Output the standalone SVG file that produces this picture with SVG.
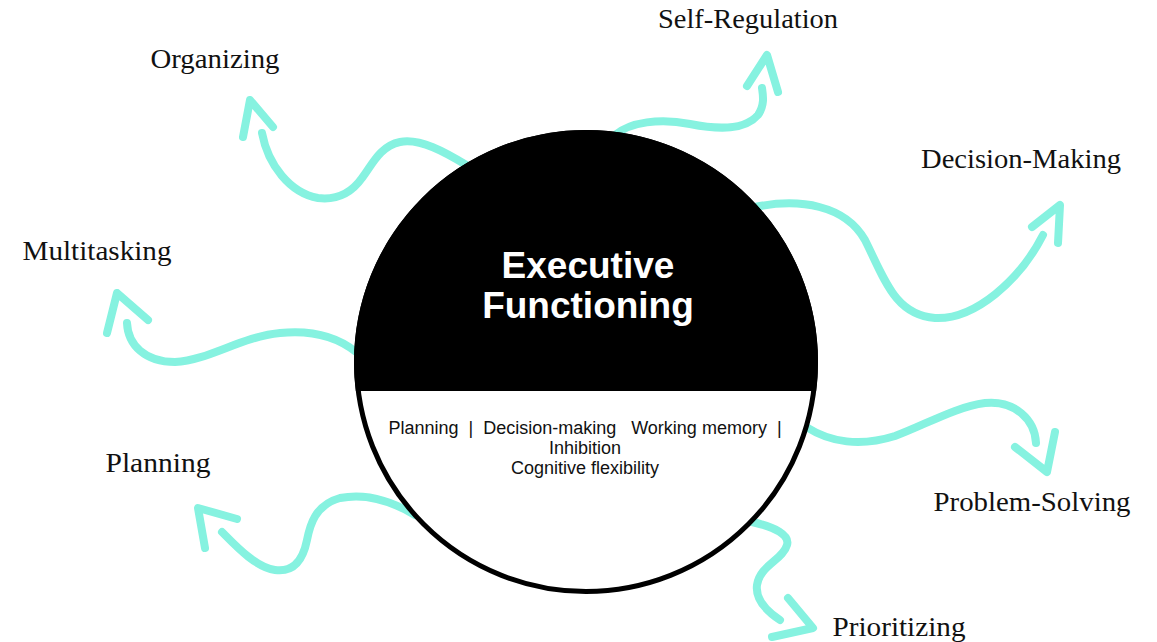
<svg xmlns="http://www.w3.org/2000/svg" width="1157" height="642" viewBox="0 0 1157 642">
<style>
.arrow{fill:none;stroke:#86f2e0;stroke-width:8;stroke-linecap:round;stroke-linejoin:round}
.lbl{font-family:"Liberation Serif","Times New Roman",serif;font-size:27px;fill:#111;text-anchor:middle}
.title{font-family:"Liberation Sans",Arial,sans-serif;font-weight:bold;font-size:37px;fill:#fff;text-anchor:middle}
.sub{font-family:"Liberation Sans",Arial,sans-serif;font-size:18px;fill:#111;text-anchor:middle;white-space:pre}
</style>
<defs>
<clipPath id="topcut"><rect x="0" y="0" width="1157" height="391"/></clipPath>
</defs>
<rect width="1157" height="642" fill="#fff"/>
<g id="connectors">
<g id="c-organizing"><path class="arrow" d="M 468,166 C 445,152 420,138 400,142 C 380,146 372,165 362,178 C 350,195 335,200 318,198 C 290,193 268,165 262,133"/><polyline class="arrow" points="243,137 250,100 273,127"/></g>
<g id="c-selfreg"><path class="arrow" d="M 615,135 C 630,122 660,118 690,124 C 720,130 745,130 758,115 C 765,105 763,95 762,88"/><polyline class="arrow" points="747,86 767,55 778,92"/></g>
<g id="c-decision"><path class="arrow" d="M 755,207 C 800,198 845,205 865,240 C 885,280 895,315 935,318 C 975,320 1020,280 1043,235"/><polyline class="arrow" points="1032,227 1060,205 1058,243"/></g>
<g id="c-multitasking"><path class="arrow" d="M 356,352 C 335,335 310,330 280,333 C 240,337 210,360 175,362 C 145,362 128,345 127,323"/><polyline class="arrow" points="107,333 117,293 148,320"/></g>
<g id="c-planning"><path class="arrow" d="M 415,515 C 390,500 365,493 340,498 C 315,505 310,525 307,540 C 302,565 290,572 275,570 C 255,567 235,545 222,532"/><polyline class="arrow" points="237,519 198,508 205,548"/></g>
<g id="c-problem"><path class="arrow" d="M 808,428 C 830,442 860,447 895,436 C 925,425 955,407 985,403 C 1015,400 1035,420 1036,443"/><polyline class="arrow" points="1015,447 1047,472 1055,432"/></g>
<g id="c-prioritizing"><path class="arrow" d="M 752,522 C 775,527 790,535 787,545 C 783,560 760,565 757,585 C 755,600 768,612 780,620"/><polyline class="arrow" points="788,598 813,628 772,637"/></g>
</g>
<g id="node-center">
<circle cx="586" cy="362" r="229.5" fill="#fff" stroke="#000" stroke-width="5"/>
<circle cx="586" cy="362" r="232" fill="#000" clip-path="url(#topcut)"/>
<text class="title" x="588" y="278">Executive</text>
<text class="title" x="588" y="318">Functioning</text>
<text class="sub" x="585" y="434" xml:space="preserve">Planning  |  Decision-making   Working memory  |</text>
<text class="sub" x="585" y="454">Inhibition</text>
<text class="sub" x="585" y="474">Cognitive flexibility</text>
</g>
<g id="node-selfreg"><text class="lbl" x="748" y="28" textLength="180" lengthAdjust="spacingAndGlyphs">Self-Regulation</text></g>
<g id="node-organizing"><text class="lbl" x="215" y="68" textLength="129" lengthAdjust="spacingAndGlyphs">Organizing</text></g>
<g id="node-decision"><text class="lbl" x="1021" y="168" textLength="200" lengthAdjust="spacingAndGlyphs">Decision-Making</text></g>
<g id="node-multitasking"><text class="lbl" x="97" y="260" textLength="149" lengthAdjust="spacingAndGlyphs">Multitasking</text></g>
<g id="node-planning"><text class="lbl" x="158" y="472" textLength="105" lengthAdjust="spacingAndGlyphs">Planning</text></g>
<g id="node-problem"><text class="lbl" x="1032" y="511" textLength="197" lengthAdjust="spacingAndGlyphs">Problem-Solving</text></g>
<g id="node-prioritizing"><text class="lbl" x="899" y="636" textLength="133" lengthAdjust="spacingAndGlyphs">Prioritizing</text></g>
</svg>
